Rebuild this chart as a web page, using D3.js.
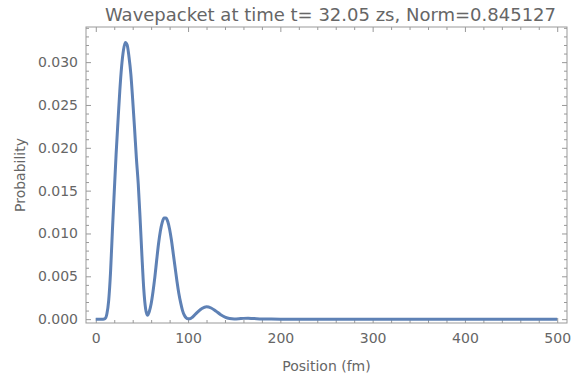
<!DOCTYPE html>
<html>
<head>
<meta charset="utf-8">
<script src="https://cdn.jsdelivr.net/npm/d3@7"></script>
<style>
  body { margin: 0; background: #fff; }
  svg text { font-family: "DejaVu Sans", sans-serif; fill: #666; }
</style>
</head>
<body>
<script>
// values
const title = 'Wavepacket at time t= 32.05 zs, Norm=0.845127';
const xLabel = 'Position (fm)';
const yLabel = 'Probability';

const positions = [0, 5, 8, 10, 12, 14, 16, 18, 20, 22, 24, 26, 28, 30, 32, 34, 36, 38, 40,
  42, 44, 46, 48, 50, 52, 54, 56, 58, 60, 62, 64, 66, 68, 70, 72, 74, 76, 78, 80, 82, 84,
  86, 88, 90, 92, 94, 96, 98, 100, 102, 105, 110, 115, 120, 125, 130, 135, 140, 145, 150,
  155, 160, 165, 170, 180, 190, 200, 250, 300, 350, 400, 450, 500];
const probability = [0, 0, 0, 0.00005, 0.0006, 0.0022, 0.0055, 0.0103, 0.0148, 0.0192, 0.0230,
  0.0266, 0.0295, 0.0314, 0.0323, 0.0320, 0.0306, 0.0286, 0.0256, 0.0223, 0.0188, 0.0158,
  0.0118, 0.0074, 0.0035, 0.0012, 0.00045, 0.0009, 0.0018, 0.0032, 0.0049, 0.0069, 0.0088,
  0.0103, 0.0113, 0.0118, 0.0118, 0.0114, 0.0105, 0.0092, 0.0076, 0.0060, 0.0044, 0.0030,
  0.0019, 0.0010, 0.00045, 0.00015, 0.00004, 0.00005, 0.00025, 0.0008, 0.00125, 0.00145,
  0.0013, 0.00095, 0.00055, 0.00025, 0.00008, 0.00003, 0.00005, 0.00009, 0.0001, 0.00008,
  0.00003, 0.00001, 0, 0, 0, 0, 0, 0, 0];

const xTicks = [0, 100, 200, 300, 400, 500];
const yTicks = [0, 0.005, 0.010, 0.015, 0.020, 0.025, 0.030];

const width = 574, height = 377;
const margin = {top: 27, right: 7, bottom: 54, left: 86};
const w = width - margin.left - margin.right;
const h = height - margin.top - margin.bottom;

const data = positions.map((p, i) => ({x: p, y: probability[i]}));

const x = d3.scaleLinear().domain([-10.6, 510.6]).range([0, w]);
const y = d3.scaleLinear().domain([-0.00045, 0.0341]).range([h, 0]);

const $svg = d3.select('body').append('svg').attr('width', width).attr('height', height);
const $g = $svg.append('g').attr('transform', `translate(${margin.left}, ${margin.top})`);

const frameColor = '#999';
const minorX = d3.range(0, 501, 20);
const minorY = d3.range(0, 0.0341, 0.001);

// axis helpers: ticks pointing inward, only bottom/left get labels
function styleAxis($a) {
  $a.select('.domain').remove();
  $a.selectAll('line').attr('stroke', frameColor);
  $a.selectAll('text').style('font-size', '14px').attr('fill', '#666');
}

const $bottom = $g.append('g').attr('transform', `translate(0, ${h})`)
  .call(d3.axisBottom(x).tickValues(xTicks).tickSize(-5).tickPadding(10).tickFormat(d3.format('d')));
$g.append('g').attr('transform', `translate(0, ${h})`)
  .call(d3.axisBottom(x).tickValues(minorX.filter(v => v % 100)).tickSize(-3).tickFormat(''))
  .call(styleAxis);
styleAxis($bottom);

const $top = $g.append('g')
  .call(d3.axisTop(x).tickValues(xTicks).tickSize(-5).tickFormat(''));
$g.append('g')
  .call(d3.axisTop(x).tickValues(minorX.filter(v => v % 100)).tickSize(-3).tickFormat(''))
  .call(styleAxis);
styleAxis($top);

const $left = $g.append('g')
  .call(d3.axisLeft(y).tickValues(yTicks).tickSize(-5).tickPadding(8).tickFormat(d3.format('.3f')));
$g.append('g')
  .call(d3.axisLeft(y).tickValues(minorY.filter((v, i) => i % 5)).tickSize(-3).tickFormat(''))
  .call(styleAxis);
styleAxis($left);

const $right = $g.append('g').attr('transform', `translate(${w}, 0)`)
  .call(d3.axisRight(y).tickValues(yTicks).tickSize(-5).tickFormat(''));
$g.append('g').attr('transform', `translate(${w}, 0)`)
  .call(d3.axisRight(y).tickValues(minorY.filter((v, i) => i % 5)).tickSize(-3).tickFormat(''))
  .call(styleAxis);
styleAxis($right);

$g.append('rect')
  .attr('width', w).attr('height', h)
  .attr('fill', 'none').attr('stroke', frameColor).attr('stroke-width', 1);

$g.append('path')
  .datum(data)
  .attr('fill', 'none')
  .attr('stroke', '#5E81B5')
  .attr('stroke-width', 3)
  .attr('stroke-linejoin', 'round')
  .attr('d', d3.line().x(d => x(d.x)).y(d => y(d.y)).curve(d3.curveMonotoneX));

$svg.append('text')
  .attr('x', margin.left + w / 2 + 4).attr('y', 21)
  .attr('text-anchor', 'middle')
  .style('font-size', '18px')
  .text(title);

$svg.append('text')
  .attr('x', margin.left + w / 2).attr('y', 371)
  .attr('text-anchor', 'middle')
  .style('font-size', '14px')
  .text(xLabel);

$svg.append('text')
  .attr('transform', `translate(25, ${margin.top + h / 2}) rotate(-90)`)
  .attr('text-anchor', 'middle')
  .style('font-size', '14px')
  .text(yLabel);
</script>
</body>
</html>
